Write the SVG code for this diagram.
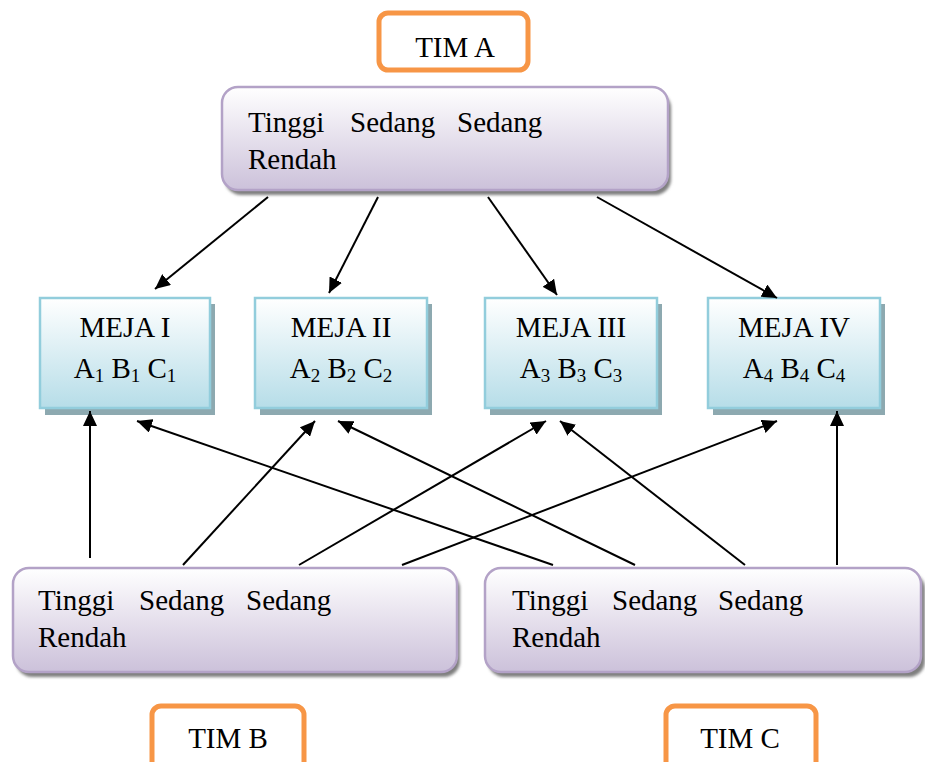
<svg xmlns="http://www.w3.org/2000/svg" width="925" height="762" viewBox="0 0 925 762">
<style>
text{font-family:"Liberation Serif","Times New Roman",serif;font-size:29px;fill:#000}
.mid{text-anchor:middle}
.sub{font-size:19px}
.tim{fill:#fff;stroke:#F79646;stroke-width:5}
.val{fill:url(#gv);stroke:#B3A2C7;stroke-width:2.5}
.valsh{fill:#7f7f7f;filter:url(#blur)}
.meja{fill:url(#gm);stroke:#92CDDC;stroke-width:2.5}
.mejash{fill:#8DA9B0}
.conn line{stroke:#000;stroke-width:2;marker-end:url(#arr)}
</style>
<defs>
<linearGradient id="gv" x1="0" y1="0" x2="0" y2="1">
<stop offset="0" stop-color="#FFFFFF"/>
<stop offset="1" stop-color="#CCC1DA"/>
</linearGradient>
<linearGradient id="gm" x1="0" y1="0" x2="0" y2="1">
<stop offset="0" stop-color="#FFFFFF"/>
<stop offset="1" stop-color="#B6DDE8"/>
</linearGradient>
<filter id="blur" x="-5%" y="-10%" width="110%" height="120%">
<feGaussianBlur stdDeviation="1.5"/>
</filter>
<marker id="arr" markerUnits="userSpaceOnUse" markerWidth="16" markerHeight="14" refX="15" refY="7" orient="auto">
<path d="M0,0 L15,7 L0,14 z" fill="#000"/>
</marker>
</defs>

<g id="timA">
<rect class="tim" x="379" y="13" width="149" height="57" rx="9"/>
<text class="mid" x="455" y="57">TIM A</text>
</g>

<g id="nilaiA">
<rect class="valsh" x="225" y="92" width="446" height="103" rx="16"/>
<rect class="val" x="222" y="87" width="446" height="103" rx="16"/>
<text><tspan x="248" y="132">Tinggi</tspan><tspan x="350" y="132">Sedang</tspan><tspan x="457" y="132">Sedang</tspan><tspan x="248" y="169">Rendah</tspan></text>
</g>

<g id="meja1">
<rect class="mejash" x="45" y="304" width="170" height="111"/>
<rect class="meja" x="40" y="298" width="170" height="110"/>
<text class="mid" x="125" y="337">MEJA I</text>
<text class="mid" x="125" y="378">A<tspan class="sub" dy="4">1</tspan><tspan dy="-4"> B</tspan><tspan class="sub" dy="4">1</tspan><tspan dy="-4"> C</tspan><tspan class="sub" dy="4">1</tspan></text>
</g>

<g id="meja2">
<rect class="mejash" x="260" y="304" width="172" height="111"/>
<rect class="meja" x="255" y="298" width="172" height="110"/>
<text class="mid" x="341" y="337">MEJA II</text>
<text class="mid" x="341" y="378">A<tspan class="sub" dy="4">2</tspan><tspan dy="-4"> B</tspan><tspan class="sub" dy="4">2</tspan><tspan dy="-4"> C</tspan><tspan class="sub" dy="4">2</tspan></text>
</g>

<g id="meja3">
<rect class="mejash" x="490" y="304" width="172" height="111"/>
<rect class="meja" x="485" y="298" width="172" height="110"/>
<text class="mid" x="571" y="337">MEJA III</text>
<text class="mid" x="571" y="378">A<tspan class="sub" dy="4">3</tspan><tspan dy="-4"> B</tspan><tspan class="sub" dy="4">3</tspan><tspan dy="-4"> C</tspan><tspan class="sub" dy="4">3</tspan></text>
</g>

<g id="meja4">
<rect class="mejash" x="713" y="304" width="172" height="111"/>
<rect class="meja" x="708" y="298" width="172" height="110"/>
<text class="mid" x="794" y="337">MEJA IV</text>
<text class="mid" x="794" y="378">A<tspan class="sub" dy="4">4</tspan><tspan dy="-4"> B</tspan><tspan class="sub" dy="4">4</tspan><tspan dy="-4"> C</tspan><tspan class="sub" dy="4">4</tspan></text>
</g>

<g id="nilaiB">
<rect class="valsh" x="16" y="573" width="444" height="104" rx="16"/>
<rect class="val" x="13" y="568" width="444" height="104" rx="16"/>
<text><tspan x="38" y="610">Tinggi</tspan><tspan x="139" y="610">Sedang</tspan><tspan x="246" y="610">Sedang</tspan><tspan x="38" y="647">Rendah</tspan></text>
</g>

<g id="nilaiC">
<rect class="valsh" x="488" y="573" width="437" height="104" rx="16"/>
<rect class="val" x="485" y="568" width="436" height="104" rx="16"/>
<text><tspan x="512" y="610">Tinggi</tspan><tspan x="612" y="610">Sedang</tspan><tspan x="718" y="610">Sedang</tspan><tspan x="512" y="647">Rendah</tspan></text>
</g>

<g id="timB">
<rect class="tim" x="152" y="706" width="152" height="70" rx="9"/>
<text class="mid" x="228" y="748">TIM B</text>
</g>

<g id="timC">
<rect class="tim" x="666" y="706" width="150" height="70" rx="9"/>
<text class="mid" x="740" y="748">TIM C</text>
</g>

<g id="connectors" class="conn">
<line x1="268" y1="197" x2="155" y2="289"/>
<line x1="378" y1="197" x2="329" y2="293"/>
<line x1="488" y1="197" x2="557" y2="295"/>
<line x1="597" y1="197" x2="777" y2="298"/>
<line x1="90" y1="558" x2="90" y2="411"/>
<line x1="183" y1="565" x2="315" y2="421"/>
<line x1="299" y1="565" x2="546" y2="421"/>
<line x1="402" y1="565" x2="777" y2="421"/>
<line x1="553" y1="565" x2="137" y2="421"/>
<line x1="635" y1="565" x2="338" y2="421"/>
<line x1="745" y1="565" x2="560" y2="421"/>
<line x1="837" y1="565" x2="837" y2="411"/>
</g>
</svg>
